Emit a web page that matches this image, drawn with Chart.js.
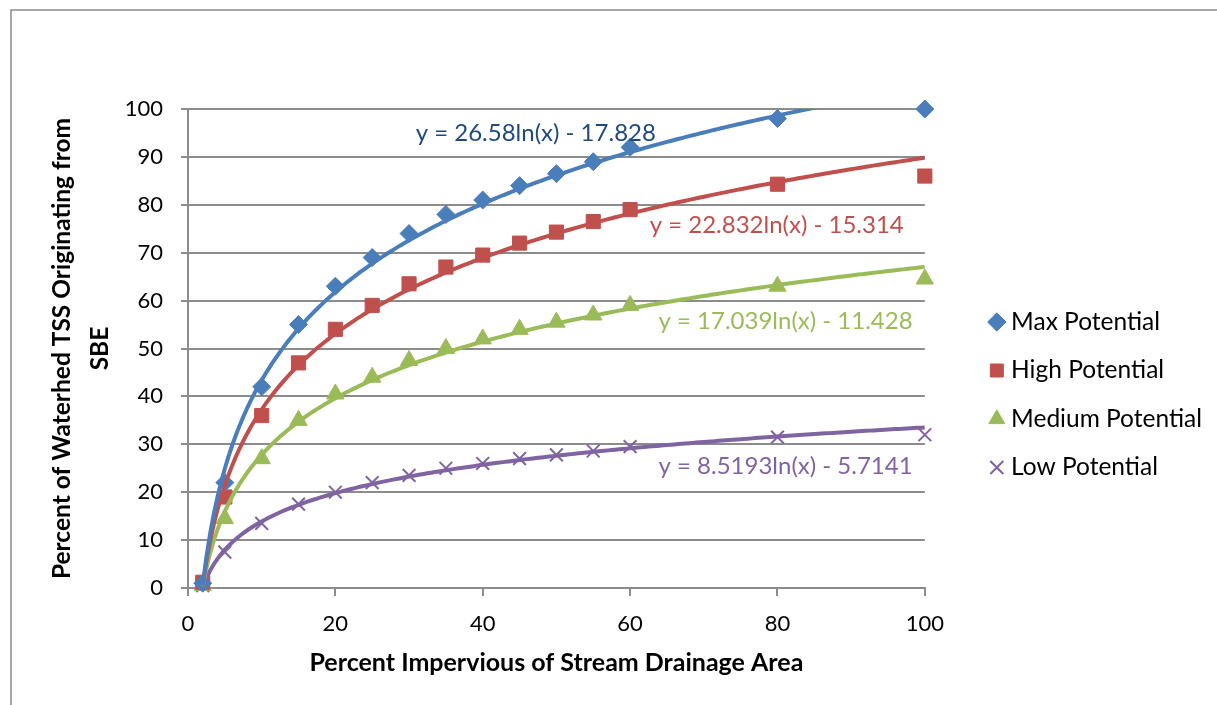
<!DOCTYPE html>
<html>
<head>
<meta charset="utf-8">
<script src="https://cdn.jsdelivr.net/npm/chart.js@4.4.0/dist/chart.umd.min.js"></script>
<style>
html,body{margin:0;padding:0;background:#fff;}
#wrap{width:1217px;height:705px;position:relative;}
</style>
</head>
<body>
<div id="wrap"><canvas id="c" width="1217" height="705"></canvas></div>
<script>
// ---- data ----
const xValues       = [2, 5, 10, 15, 20, 25, 30, 35, 40, 45, 50, 55, 60, 80, 100];
const maxPotential  = [1, 22, 42, 55, 63, 69, 74, 78, 81, 84, 86.5, 89, 92, 98, 100];
const highPotential = [1.2, 19, 36, 47, 54, 59, 63.5, 67, 69.5, 72, 74.3, 76.5, 79, 84.3, 86];
const medPotential  = [0.5, 14.5, 27, 35, 40.5, 44, 47.5, 50, 52, 54, 55.5, 57, 59, 63, 64.5];
const lowPotential  = [0.5, 7.5, 13.5, 17.5, 20, 22, 23.5, 25, 26, 27, 27.8, 28.6, 29.5, 31.5, 32];

const seriesNames   = ['Max Potential', 'High Potential', 'Medium Potential', 'Low Potential'];
const seriesColors  = ['#4a7ebb', '#c0504d', '#9bbb59', '#8064a2'];
const pointStyles   = ['rectRot', 'rect', 'triangle', 'crossRot'];

// logarithmic trendlines shown on the chart: y = a ln(x) + b
const trendSlope     = [26.58, 22.832, 17.039, 8.5193];
const trendIntercept = [-17.828, -15.314, -11.428, -5.7141];
const equationLabels = ['y = 26.58ln(x) - 17.828', 'y = 22.832ln(x) - 15.314',
                        'y = 17.039ln(x) - 11.428', 'y = 8.5193ln(x) - 5.7141'];
const equationColors = ['#1f497d', '#c0504d', '#9bbb59', '#8064a2'];
const equationX      = [47.2, 79.9, 81.1, 81.1];
const equationY      = [95.0, 75.8, 55.7, 25.4];

const xTitle = 'Percent Impervious of Stream Drainage Area';
const yTitle = ['Percent of Waterhed TSS Originating from', 'SBE'];

const FONT = 'Lato, "Open Sans", sans-serif';
const GRID = '#8c8c8c';

const seriesValues = [maxPotential, highPotential, medPotential, lowPotential];

const datasets = [];
seriesValues.forEach((vals, i) => {
  datasets.push({
    type: 'scatter',
    label: seriesNames[i],
    data: xValues.map((x, k) => ({x: x, y: vals[k]})),
    backgroundColor: seriesColors[i],
    borderColor: seriesColors[i],
    borderWidth: i === 3 ? 2 : 1,
    pointStyle: pointStyles[i],
    pointRadius: i === 0 ? 9 : (i === 1 ? 10 : (i === 2 ? 10 : 9)),
    pointHoverRadius: 9,
    showLine: false,
    clip: false,
    order: 2
  });
});
seriesValues.forEach((vals, i) => {
  const pts = [];
  const x0 = xValues[0], x1 = xValues[xValues.length - 1];
  for (let x = x0; x <= x1 + 1e-9; x += 0.5) {
    pts.push({x: x, y: trendSlope[i] * Math.log(x) + trendIntercept[i]});
  }
  datasets.push({
    type: 'line',
    label: seriesNames[i] + ' trend',
    data: pts,
    borderColor: seriesColors[i],
    borderWidth: 4,
    pointRadius: 0,
    fill: false,
    tension: 0,
    order: 1
  });
});

const framePlugin = {
  id: 'frame',
  beforeDraw(chart) {
    const ctx = chart.ctx;
    ctx.save();
    ctx.fillStyle = '#fff';
    ctx.fillRect(0, 0, chart.width, chart.height);
    ctx.strokeStyle = '#8a8a8a';
    ctx.lineWidth = 1.5;
    ctx.beginPath();
    ctx.moveTo(11, chart.height);
    ctx.lineTo(11, 10);
    ctx.lineTo(chart.width, 10);
    ctx.stroke();
    ctx.restore();
  }
};

const equationPlugin = {
  id: 'equations',
  afterDatasetsDraw(chart) {
    const ctx = chart.ctx;
    const xs = chart.scales.x, ys = chart.scales.y;
    ctx.save();
    ctx.font = '24px ' + FONT;
    ctx.textAlign = 'center';
    ctx.textBaseline = 'middle';
    equationLabels.forEach((t, i) => {
      ctx.fillStyle = equationColors[i];
      ctx.fillText(t, xs.getPixelForValue(equationX[i]), ys.getPixelForValue(equationY[i]));
    });
    ctx.restore();
  }
};

new Chart(document.getElementById('c'), {
  data: { datasets: datasets },
  options: {
    responsive: false,
    animation: false,
    layout: { padding: { top: 109, right: 5, bottom: 0, left: 0 } },
    plugins: {
      tooltip: { enabled: false },
      legend: {
        position: 'right',
        fullSize: false,
        align: 'center',
        maxWidth: 400,
        title: { display: true, text: ' ', padding: { top: 82.5, bottom: 0 }, font: { size: 10, lineHeight: 1 } },
        labels: {
          usePointStyle: true,
          boxWidth: 4,
          boxHeight: 13,
          padding: 24,
          color: '#000',
          font: { family: FONT, size: 24.5 },
          filter: (item) => item.datasetIndex < 4
        }
      }
    },
    scales: {
      x: {
        type: 'linear',
        min: 0, max: 100,
        afterFit: (s) => { s.height = 117; },
        ticks: { stepSize: 20, color: '#000', padding: 15, font: { family: FONT, size: 22 } },
        grid: { drawOnChartArea: false, drawTicks: true, tickLength: 8, color: GRID, lineWidth: 2 },
        border: { color: GRID, width: 2 },
        title: { display: true, text: xTitle, color: '#000', padding: { top: 0, bottom: 27 },
                 font: { family: FONT, size: 25, weight: 'bold', lineHeight: 1.2 } }
      },
      y: {
        type: 'linear',
        min: 0, max: 100,
        afterFit: (s) => { s.width = 188; },
        ticks: { stepSize: 10, color: '#000', padding: 18, font: { family: FONT, size: 22 } },
        grid: { drawTicks: true, tickLength: 7, color: GRID, lineWidth: 2 },
        border: { color: GRID, width: 2 },
        title: { display: true, text: yTitle, color: '#000', padding: { top: 43, bottom: 0 },
                 font: { family: FONT, size: 24.5, weight: 'bold', lineHeight: 1.55 } }
      },
      spacer: {
        type: 'linear',
        position: 'right',
        display: true,
        afterFit: (s) => { s.width = 46; },
        ticks: { display: false },
        grid: { display: false },
        border: { display: false }
      }
    }
  },
  plugins: [framePlugin, equationPlugin]
});
</script>
</body>
</html>
